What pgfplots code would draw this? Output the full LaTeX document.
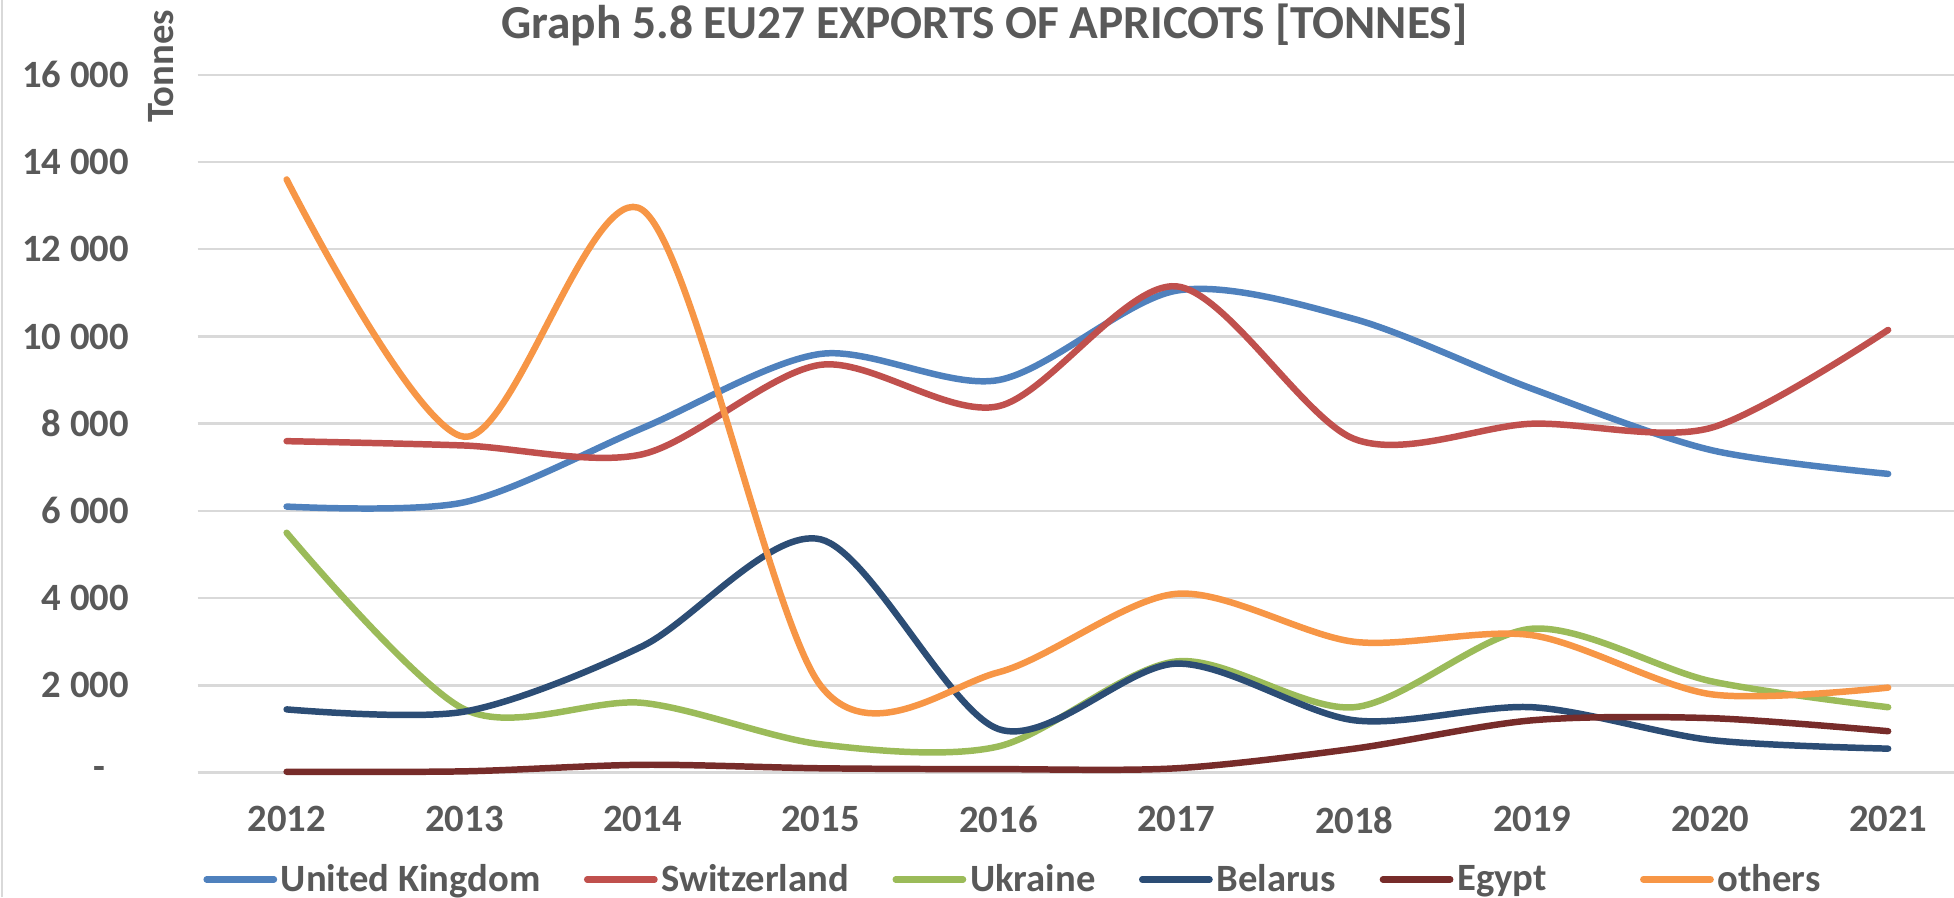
\documentclass[border=0pt]{standalone}
\usepackage{pgfplots}
\pgfplotsset{compat=1.18}
\usepackage{pgfplotstable}
\usepackage{fontspec}
\setmainfont{Carlito}

\definecolor{txtgray}{HTML}{595959}
\definecolor{gridgray}{HTML}{D9D9D9}
\definecolor{ukblue}{HTML}{4F81BD}
\definecolor{chred}{HTML}{C0504D}
\definecolor{uagreen}{HTML}{9BBB59}
\definecolor{bynavy}{HTML}{2C4D75}
\definecolor{egmaroon}{HTML}{772C2A}
\definecolor{othorange}{HTML}{F79646}

% EU27 apricot exports, tonnes (x: 0 = 2012 ... 9 = 2021)
\pgfplotstableread{
x  UK    CH    UA    BY    EG    OT
0  6100  7600  5500  1450  20    13600
1  6200  7500  1450  1400  30    7700
2  7900  7300  1600  2900  180   12900
3  9600  9350  650   5350  100   2000
4  9000  8400  600   1000  80    2300
5  11050 11150 2550  2500  100   4100
6  10400 7650  1500  1200  550   3000
7  8800  8000  3300  1500  1200  3150
8  7400  7900  2100  750   1250  1800
9  6850  10150 1500  550   950   1950
}\exports

\begin{document}
\begin{tikzpicture}
\path[use as bounding box] (-79.3pt,-50pt) rectangle (704.7pt,310pt);
\draw[gridgray, line width=1pt] (-78.5pt,-50pt) -- (-78.5pt,310pt);
\begin{axis}[
    at={(0,0)}, anchor=south west,
    scale only axis,
    width=704.7pt, height=280pt,
    xmin=-0.5, xmax=9.37,
    ymin=0, ymax=16000,
    scaled y ticks=false,
    axis line style={draw=none},
    major tick length=0pt,
    xtick={0,...,9},
    xticklabels={2012,2013,2014,2015,2016,2017,2018,2019,2020,2021},
    ytick={0,2000,...,16000},
    yticklabels={{-\hspace{9.5pt}\null},2 000,4 000,6 000,8 000,10 000,12 000,14 000,16 000},
    xticklabel style={font=\fontsize{15.5}{18}\selectfont\bfseries, text=txtgray, yshift=-10pt},
    yticklabel style={font=\fontsize{15.5}{18}\selectfont\bfseries, text=txtgray, xshift=-24pt},
    ymajorgrids=true,
    grid style={gridgray, line width=1pt},
    clip=false,
    legend columns=6,
    legend style={draw=none, fill=none, at={(axis description cs:0.003,-0.153)}, anchor=west,
        inner sep=0pt, font=\fontsize{15.5}{18}\selectfont\bfseries, text=txtgray,
        /tikz/every even column/.append style={column sep=16pt},
        nodes={inner sep=1.5pt}},
    legend image code/.code={\draw[#1, line width=2.6pt, line cap=round] (0pt,0pt) -- (27pt,0pt);},
    every axis plot/.append style={line width=2.6pt, smooth, tension=0.5, line cap=round, line join=round},
]
\addplot[ukblue] table[x=x, y=UK]{\exports};
\addlegendentry{United Kingdom}
\addplot[chred] table[x=x, y=CH]{\exports};
\addlegendentry{Switzerland}
\addplot[uagreen] table[x=x, y=UA]{\exports};
\addlegendentry{Ukraine}
\addplot[bynavy] table[x=x, y=BY]{\exports};
\addlegendentry{Belarus}
\addplot[egmaroon] table[x=x, y=EG]{\exports};
\addlegendentry{Egypt\hspace{20pt}\null}
\addplot[othorange] table[x=x, y=OT]{\exports};
\addlegendentry{others}

\node[font=\fontsize{19}{22}\selectfont\bfseries, text=txtgray] at ([yshift=20pt]axis description cs:0.448,1) {Graph 5.8 EU27 EXPORTS OF APRICOTS [TONNES]};
\node[font=\fontsize{15.5}{18}\selectfont\bfseries, text=txtgray, rotate=90] at ([xshift=-14.8pt]axis description cs:0,1.012) {Tonnes};
\end{axis}
\end{tikzpicture}
\end{document}
